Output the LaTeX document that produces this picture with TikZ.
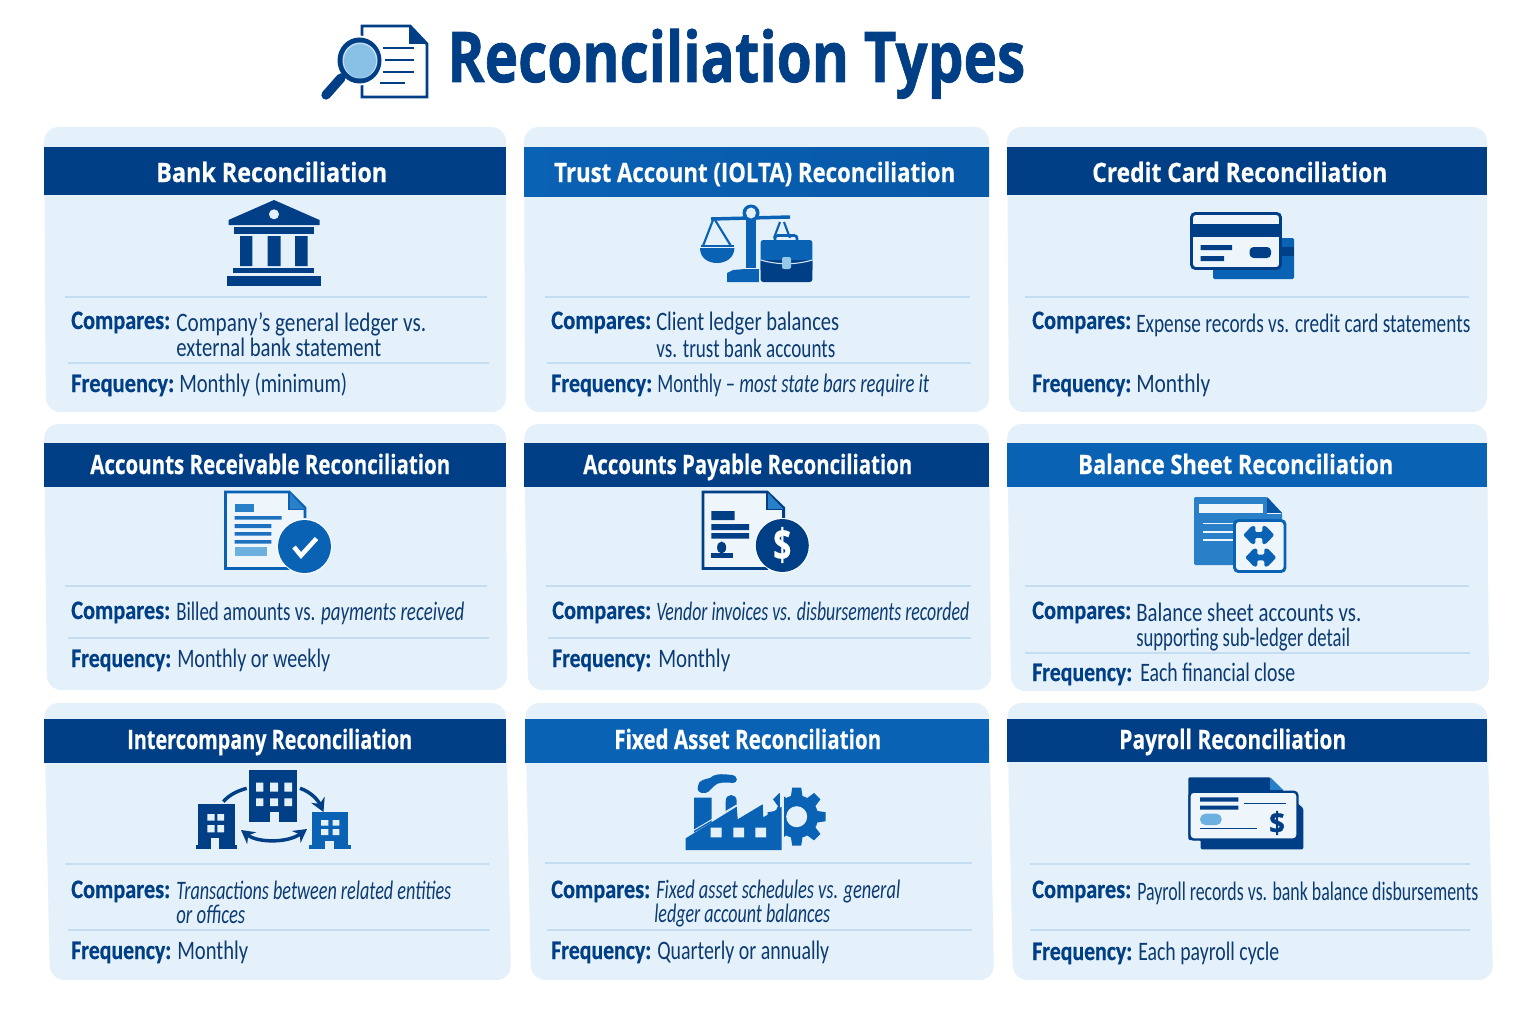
\documentclass[tikz,border=0pt]{standalone}
\usepackage{fontspec}
\usepackage{graphicx}
\usetikzlibrary{arrows.meta}
\newfontfamily\bodyfam[BoldFeatures={FakeBold=0.6}]{Carlito}
\newfontfamily\headfam[BoldFeatures={FakeBold=0.5}]{Open Sans}
\newfontfamily\ttlfam[BoldFeatures={FakeBold=1.2}]{Open Sans}
\newlength\pxu \setlength\pxu{0.75pt}
\newcommand\W[2]{\resizebox{#1\pxu}{\height}{#2}}
\definecolor{dk}{HTML}{003F85}
\definecolor{md}{HTML}{0A62B5}
\definecolor{lb}{HTML}{2A80C8}
\definecolor{sky}{HTML}{6CB0E0}
\definecolor{bd}{HTML}{E4F1FB}
\definecolor{pale}{HTML}{EEF6FC}
\definecolor{sepc}{HTML}{C4DDF0}
\definecolor{ink}{HTML}{0C3B72}
\tikzset{
 x=0.75pt,y=-0.75pt,
 cardbody/.style={fill=bd,rounded corners=11pt},
 hdbar/.style={fill=dk},
 hdblue/.style={fill=md},
 sepline/.style={draw=sepc,line width=0.9pt},
 hd/.style={anchor=base west,inner sep=0,text=white,font=\headfam\bfseries\fontsize{20}{24}\selectfont},
 lab/.style={anchor=base west,inner sep=0,text=dk,font=\bodyfam\bfseries\fontsize{20}{24}\selectfont},
 val/.style={anchor=base west,inner sep=0,text=ink,font=\bodyfam\fontsize{20}{24}\selectfont},
 vali/.style={val,font=\bodyfam\itshape\fontsize{20}{24}\selectfont},
 ttl/.style={anchor=base west,inner sep=0,text=dk,font=\ttlfam\bfseries\fontsize{52.5}{60}\selectfont},
 dollar/.style={inner sep=0,font=\headfam\bfseries\fontsize{33}{36}\selectfont},
}
\begin{document}
\begin{tikzpicture}
\useasboundingbox (0,0) rectangle (1536,1024);
\fill[white] (0,0) rectangle (1536,1024);
% title
\node[ttl] (title) at (447,82) {\W{578}{Reconciliation Types}};
\draw[dk,line width=2.2pt] (362,36) -- (362,26) -- (410,26) -- (427,44) -- (427,97) -- (362,97) -- (362,84);
\fill[dk] (409,26) -- (427,44) -- (409,44) -- cycle;
\draw[dk,line width=2.2pt] (383,48) -- (414,48) (385,60) -- (414,60) (383,72) -- (414,72) (380,83) -- (405,83);
\fill[white] (359.5,60.5) circle (25);
\fill[dk] (359.5,60.5) ellipse (22 and 23);
\fill[white!60!sky] (360,60.5) ellipse (17.5 and 18);
\fill[sky!80!white] (360,61) ellipse (16 and 17);
\draw[dk,line width=7pt,line cap=round] (326,95) -- (341,78);
% row 1
\fill[cardbody] (44,127) -- (506,127) -- (506,412) -- (46,412) -- cycle;
\fill[hdbar] (44,147) rectangle (506,195);
\draw[sepline] (65,297) -- (487,297) (68,363) -- (489,363);
\node[hd] (c1t) at (156,182) {\W{231}{Bank Reconciliation}};
\node[lab] (c1a) at (71,329) {\W{99}{Compares:}};
\node[val] (c1b) at (176,331) {\W{250}{Company’s general ledger vs.}};
\node[val] (c1c) at (176,356) {\W{205}{external bank statement}};
\node[lab] (c1d) at (71,392) {\W{103}{Frequency:}};
\node[val] (c1e) at (179,392) {\W{168}{Monthly (minimum)}};

\fill[cardbody] (524,127) -- (989,127) -- (989,412) -- (525,412) -- cycle;
\shade[left color=md,right color=md!70!dk] (524,147) rectangle (989,196);
\draw[sepline] (545,297) -- (970,297) (547,363) -- (971,363);
\node[hd] (c2t) at (554,182) {\W{401}{Trust Account (IOLTA) Reconciliation}};
\node[lab] (c2a) at (551,329) {\W{100}{Compares:}};
\node[val] (c2b) at (656,330) {\W{183}{Client ledger balances}};
\node[val] (c2c) at (656,357) {\W{179}{vs. trust bank accounts}};
\node[lab] (c2d) at (551,392) {\W{101}{Frequency:}};
\node[val] (c2e) at (657,392) {\W{272}{Monthly – {\itshape most state bars require it}}};

\fill[cardbody] (1007,127) -- (1487,127) -- (1487,412) -- (1009,412) -- cycle;
\fill[hdbar] (1007,147) rectangle (1487,195);
\draw[sepline] (1025,297) -- (1469,297);
\node[hd] (c3t) at (1092,182) {\W{295}{Credit Card Reconciliation}};
\node[lab] (c3a) at (1032,329) {\W{99}{Compares:}};
\node[val] (c3b) at (1136,332) {\W{334}{Expense records vs. credit card statements}};
\node[lab] (c3d) at (1032,392) {\W{99}{Frequency:}};
\node[val] (c3e) at (1136,392) {\W{74}{Monthly}};

% row 2
\fill[cardbody] (44,424) -- (506,424) -- (507,690) -- (47,690) -- cycle;
\fill[hdbar] (44,443) rectangle (506,487);
\draw[sepline] (65,586) -- (487,586) (68,638) -- (489,638);
\node[hd] (c4t) at (90,474) {\W{360}{Accounts Receivable Reconciliation}};
\node[lab] (c4a) at (71,619) {\W{99}{Compares:}};
\node[val] (c4b) at (176,620) {\W{288}{Billed amounts vs. {\itshape payments received}}};
\node[lab] (c4d) at (71,667) {\W{100}{Frequency:}};
\node[val] (c4e) at (177,667) {\W{153}{Monthly or weekly}};

\fill[cardbody] (524,424) -- (989,424) -- (991,690) -- (528,690) -- cycle;
\fill[hdbar] (524,443) rectangle (989,487);
\draw[sepline] (546,586) -- (971,586) (548,638) -- (971,638);
\node[hd] (c5t) at (583,474) {\W{329}{Accounts Payable Reconciliation}};
\node[lab] (c5a) at (552,619) {\W{99}{Compares:}};
\node[vali] (c5b) at (656,620) {\W{313}{Vendor invoices vs. disbursements recorded}};
\node[lab] (c5d) at (552,667) {\W{99}{Frequency:}};
\node[val] (c5e) at (658,667) {\W{72}{Monthly}};

\fill[cardbody] (1007,424) -- (1487,424) -- (1489,691) -- (1011,691) -- cycle;
\fill[hdblue] (1007,443) rectangle (1487,487);
\draw[sepline] (1025,586) -- (1469,586) (1025,653) -- (1470,653);
\node[hd] (c6t) at (1078,474) {\W{315}{Balance Sheet Reconciliation}};
\node[lab] (c6a) at (1032,619) {\W{99}{Compares:}};
\node[val] (c6b) at (1136,621) {\W{225}{Balance sheet accounts vs.}};
\node[val] (c6c) at (1136,646) {\W{214}{supporting sub-ledger detail}};
\node[lab] (c6d) at (1032,681) {\W{100}{Frequency:}};
\node[val] (c6e) at (1140,681) {\W{155}{Each financial close}};

% row 3
\fill[cardbody] (44,703) -- (506,703) -- (511,980) -- (50,980) -- cycle;
\fill[hdbar] (44,719) rectangle (506,763);
\draw[sepline] (65,864) -- (489,864) (68,930) -- (490,930);
\node[hd] (c7t) at (127,749) {\W{285}{Intercompany Reconciliation}};
\node[lab] (c7a) at (71,898) {\W{99}{Compares:}};
\node[vali] (c7b) at (176,899) {\W{275}{Transactions between related entities}};
\node[vali] (c7c) at (176,923) {\W{69}{or offices}};
\node[lab] (c7d) at (71,959) {\W{100}{Frequency:}};
\node[val] (c7e) at (177,959) {\W{71}{Monthly}};

\fill[cardbody] (525,703) -- (989,703) -- (994,980) -- (531,980) -- cycle;
\fill[hdblue] (525,719) rectangle (989,763);
\draw[sepline] (545,863) -- (972,863) (547,930) -- (972,930);
\node[hd] (c8t) at (614,749) {\W{267}{Fixed Asset Reconciliation}};
\node[lab] (c8a) at (551,898) {\W{99}{Compares:}};
\node[vali] (c8b) at (656,898) {\W{244}{Fixed asset schedules vs. general}};
\node[vali] (c8c) at (654,922) {\W{176}{ledger account balances}};
\node[lab] (c8d) at (551,959) {\W{100}{Frequency:}};
\node[val] (c8e) at (657,959) {\W{172}{Quarterly or annually}};

\fill[cardbody] (1007,703) -- (1487,703) -- (1493,980) -- (1013,980) -- cycle;
\fill[hdbar] (1007,719) rectangle (1487,762);
\draw[sepline] (1030,864) -- (1470,864) (1030,930) -- (1470,930);
\node[hd] (c9t) at (1119,749) {\W{227}{Payroll Reconciliation}};
\node[lab] (c9a) at (1032,898) {\W{99}{Compares:}};
\node[val] (c9b) at (1137,900) {\W{341}{Payroll records vs. bank balance disbursements}};
\node[lab] (c9d) at (1032,960) {\W{100}{Frequency:}};
\node[val] (c9e) at (1138,960) {\W{141}{Each payroll cycle}};

% bank icon
\fill[dk] (274,200) -- (319.5,220) -- (319.5,225) -- (228.5,225) -- (228.5,220) -- cycle;
\fill[bd] (274,214.3) circle (5);
\fill[dk] (234,227.3) rectangle (314.3,234);
\fill[dk] (240,236) rectangle (252.3,266) (267.7,236) rectangle (280.7,266) (295,236) rectangle (307.7,266);
\fill[dk] (233.3,267.7) rectangle (314.3,273.3);
\fill[dk] (227,275.7) rectangle (321,285.7);

% scale + briefcase icon
\begin{scope}[md]
\fill (745.5,218) rectangle (756,268);
\fill (727,282) -- (727,273) -- (733,270) -- (745,269) -- (760,269) -- (760,282) -- cycle;
\draw[line width=2.6pt] (711,219) -- (790,217);
\draw[line width=1.6pt] (713,220) -- (703,246) (715,220) -- (731,246) (780,222) -- (774,238) (784,222) -- (790,238);
\fill (751,213) circle (8.5);
\fill[bd] (751,213) ellipse (5 and 5.5);
\fill (700,248) -- (734.5,248) .. controls (734,258) and (726,263) .. (717,263) .. controls (708,263) and (700,258) .. (700,248) -- cycle;
\draw[md,line width=1pt] (701,246) -- (733.5,246);
\end{scope}
\fill[bd] (758.6,238) rectangle (814,284);
\draw[md,line width=2pt,rounded corners=2pt] (775,241) -- (775,235.5) -- (797,235.5) -- (797,241);
\fill[md,rounded corners=2pt] (760.6,240) rectangle (812.4,264);
\fill[dk,rounded corners=2pt] (760.6,260) rectangle (812.4,282);
\fill[dk] (760.6,260) .. controls (778,265) and (795,265) .. (812.4,260) -- (812.4,270) -- (760.6,270) -- cycle;
\fill[md] (760.6,255) rectangle (812.4,260);
\draw[white!70!sky,line width=0.8pt] (760.6,260) .. controls (778,265) and (795,265) .. (812.4,260);
\fill[white!30!sky,rounded corners=1.5pt] (782,257) rectangle (791,269);

% credit card icon
\fill[md,rounded corners=1pt] (1213,238) rectangle (1294,279);
\fill[dk] (1281,247) rectangle (1294,256);
\draw[dk,fill=pale,line width=2.2pt,rounded corners=3pt] (1191.5,213.5) rectangle (1280.5,268.5);
\fill[dk] (1191.5,224) rectangle (1280.5,237);
\fill[dk] (1200.6,245) rectangle (1232,250) (1200.6,256) rectangle (1224,261);
\fill[dk,rounded corners=3pt] (1249.6,247) rectangle (1271,258);

% AR doc icon
\fill[pale] (224.5,492) -- (289,492) -- (305,508) -- (305,569) -- (224.5,569) -- cycle;
\draw[md,line width=2.2pt] (305,518) -- (305,508) -- (289,492) -- (225.5,492) -- (225.5,568.5) -- (290,568.5);
\fill[lb] (289,492) -- (289,509.5) -- (305,509.5) -- cycle;
\draw[md,line width=1.2pt] (289,492) -- (289,509.5) -- (305,509.5);
\fill[lb] (234.7,504) rectangle (254,512);
\fill[md!80!sky] (234.7,516) rectangle (281.6,519.5) (234.7,524) rectangle (271.4,528) (234.7,532) rectangle (271.4,535.5) (234.7,540) rectangle (271.4,543.5);
\fill[sky] (234.7,547) rectangle (266.5,556);
\fill[white] (304.5,546.5) circle (27.5);
\fill[md] (304.5,546.5) circle (26.5);
\draw[white,line width=3.4pt] (294,547) -- (301,555.5) -- (316.5,538.5);

% AP doc icon
\fill[pale] (702,492) -- (767,492) -- (783.7,508) -- (783.7,569) -- (702,569) -- cycle;
\draw[dk,line width=2.2pt] (783.7,518) -- (783.7,508) -- (767,492) -- (703,492) -- (703,568.5) -- (768,568.5);
\fill[lb] (767,492) -- (767,509.5) -- (783.7,509.5) -- cycle;
\draw[dk,line width=1.2pt] (767,492) -- (767,509.5) -- (783.7,509.5);
\fill[dk] (711.4,511) rectangle (734.7,520) (711.4,524) rectangle (749,530) (711.4,533) rectangle (749,538.5);
\fill[dk] (711.4,553) rectangle (732.7,557.5);
\fill[dk] (721.6,547.5) ellipse (4.5 and 6);
\fill[white] (782.3,545.5) circle (27.5);
\fill[dk] (782.3,545.5) circle (26.5);
\node[dollar,text=white] (d1) at (782.3,545) {\W{18}{\$}};

% balance sheet icon
\fill[lb,rounded corners=1pt] (1194,497) -- (1267,497) -- (1282,513) -- (1282,565) -- (1194,565) -- cycle;
\fill[pale] (1199,504) rectangle (1263.3,513.3);
\fill[dk!40!md] (1267,497) -- (1282,513) -- (1267,513) -- cycle;
\draw[pale,line width=1pt] (1267,513.5) -- (1281,513.5);
\draw[pale,line width=1.4pt] (1203,523.5) -- (1233,523.5) (1203,531.7) -- (1233,531.7) (1203,540) -- (1233,540);
\draw[md,fill=pale,line width=2.2pt,rounded corners=3pt] (1234.5,520.5) rectangle (1285,571.5);
\foreach \cx/\cy in {1258.8/535, 1260.8/557.5}{
 \fill[md,shift={(\cx,\cy)},rounded corners=1pt] (-15.5,0) -- (-7,-9) -- (-3.5,-9) -- (-3.5,-2.8) -- (3.5,-2.8) -- (3.5,-9) -- (7,-9) -- (15.5,0) -- (7,9) -- (3.5,9) -- (3.5,2.8) -- (-3.5,2.8) -- (-3.5,9) -- (-7,9) -- cycle;
}

% intercompany icon
\fill[dk] (198,804.3) rectangle (235,845);
\fill[dk] (196,845) rectangle (237.3,849.3);
\fill[bd] (207.3,814) rectangle (214.7,820.7) (217.3,814) rectangle (224,820.7) (207.3,825) rectangle (214.7,832.3) (217.3,825) rectangle (224,832.3);
\fill[bd] (210.5,838) rectangle (219,849.3);
\fill[dk] (249.3,770) rectangle (297.3,822.3);
\fill[bd] (256,782.7) rectangle (263.3,791.7) (270,782.7) rectangle (278,791.7) (284.3,782.7) rectangle (292,791.7);
\fill[bd] (256,798.3) rectangle (263.3,806) (270,798.3) rectangle (278,806) (284.3,798.3) rectangle (292,806);
\fill[bd] (270,812.3) rectangle (279.3,822.3);
\fill[md] (311.7,812.3) rectangle (348.3,845);
\fill[md] (309,845) rectangle (350.7,849.3);
\fill[bd] (321,820) rectangle (328.3,825.7) (332.7,820) rectangle (339.3,825.7) (321,829) rectangle (328.3,835) (332.7,829) rectangle (339.3,835);
\fill[bd] (325,841) rectangle (334.3,849.3);
\draw[dk,line width=2.6pt] (223.3,801.7) .. controls (229,795) and (237,791) .. (246.7,788.3);
\draw[dk,line width=2.6pt,-{Stealth[length=10pt,width=11pt]}] (300,788.3) .. controls (311,792) and (318,800) .. (323.5,812);
\draw[dk,line width=2.6pt,{Stealth[length=10pt,width=11pt]}-{Stealth[length=10pt,width=11pt]}] (241,830) .. controls (258,843) and (288,843) .. (307,829);

% factory icon
\fill[md] (698,786) .. controls (698,780) and (706,779) .. (710,778) .. controls (714,774) and (720,773.5) .. (732,775) .. controls (738.5,776) and (738,783) .. (733,783) .. controls (725,782) and (718,782) .. (714,786) .. controls (710,790) and (708,794) .. (702,793) .. controls (698,792) and (697,790) .. (698,786) -- cycle;
\fill[md] (694,797.7) -- (711.7,797.7) -- (711.7,822) -- (694,832.5) -- cycle;
\fill[md] (725.7,801) .. controls (725.7,793) and (736.7,793) .. (736.7,801) -- (736.7,805) -- (725.7,812) -- cycle;
\foreach \a in {0,45,...,315}{
 \fill[md,shift={(796.7,816.7)},rotate=\a] (-6,-19) -- (-4.5,-29) -- (4.5,-29) -- (6,-19) -- cycle;
}
\fill[md] (796.7,816.7) circle (21.5);
\fill[bd] (796.7,816.7) circle (10.5);
\fill[bd] (780,784) rectangle (783.5,852);
\fill[md] (685.7,838.3) -- (736.7,806.7) -- (737.7,819.3) -- (762.7,804.3) -- (763.3,817.3) -- (781.7,806.7) -- (781.7,850) -- (685.7,850) -- cycle;
\draw[bd,line width=0.7pt] (689,833) -- (736.7,805);
\fill[bd] (710.7,827.7) rectangle (721.7,837.3) (733.3,827.7) rectangle (744,837.3) (755.3,827.7) rectangle (766,837.3);

% payroll icon
\fill[dk,rounded corners=1pt] (1188.3,777.3) -- (1270,777.3) -- (1283.3,791) -- (1303.3,808.3) -- (1303.3,849.3) -- (1200.7,849.3) -- (1200.7,840) -- (1188.3,840) -- cycle;
\fill[lb] (1270,777.3) -- (1283.3,790) -- (1270,790) -- cycle;
\draw[dk,fill=pale,line width=1.8pt,rounded corners=3pt] (1189.5,791.7) rectangle (1297.5,839.5);
\fill[dk] (1200,797.3) rectangle (1238.3,801.7) (1200,805.7) rectangle (1238.3,809.7);
\fill[dk] (1244.3,802.5) rectangle (1285.7,804.3);
\fill[sky,rounded corners=4pt] (1200,813.7) rectangle (1221.7,825);
\fill[dk] (1200,827.5) rectangle (1257.3,829.3);
\node[dollar,text=dk,font=\headfam\bfseries\fontsize{22}{26}\selectfont] (d2) at (1277,823) {\W{16}{\$}};
\end{tikzpicture}
\end{document}
